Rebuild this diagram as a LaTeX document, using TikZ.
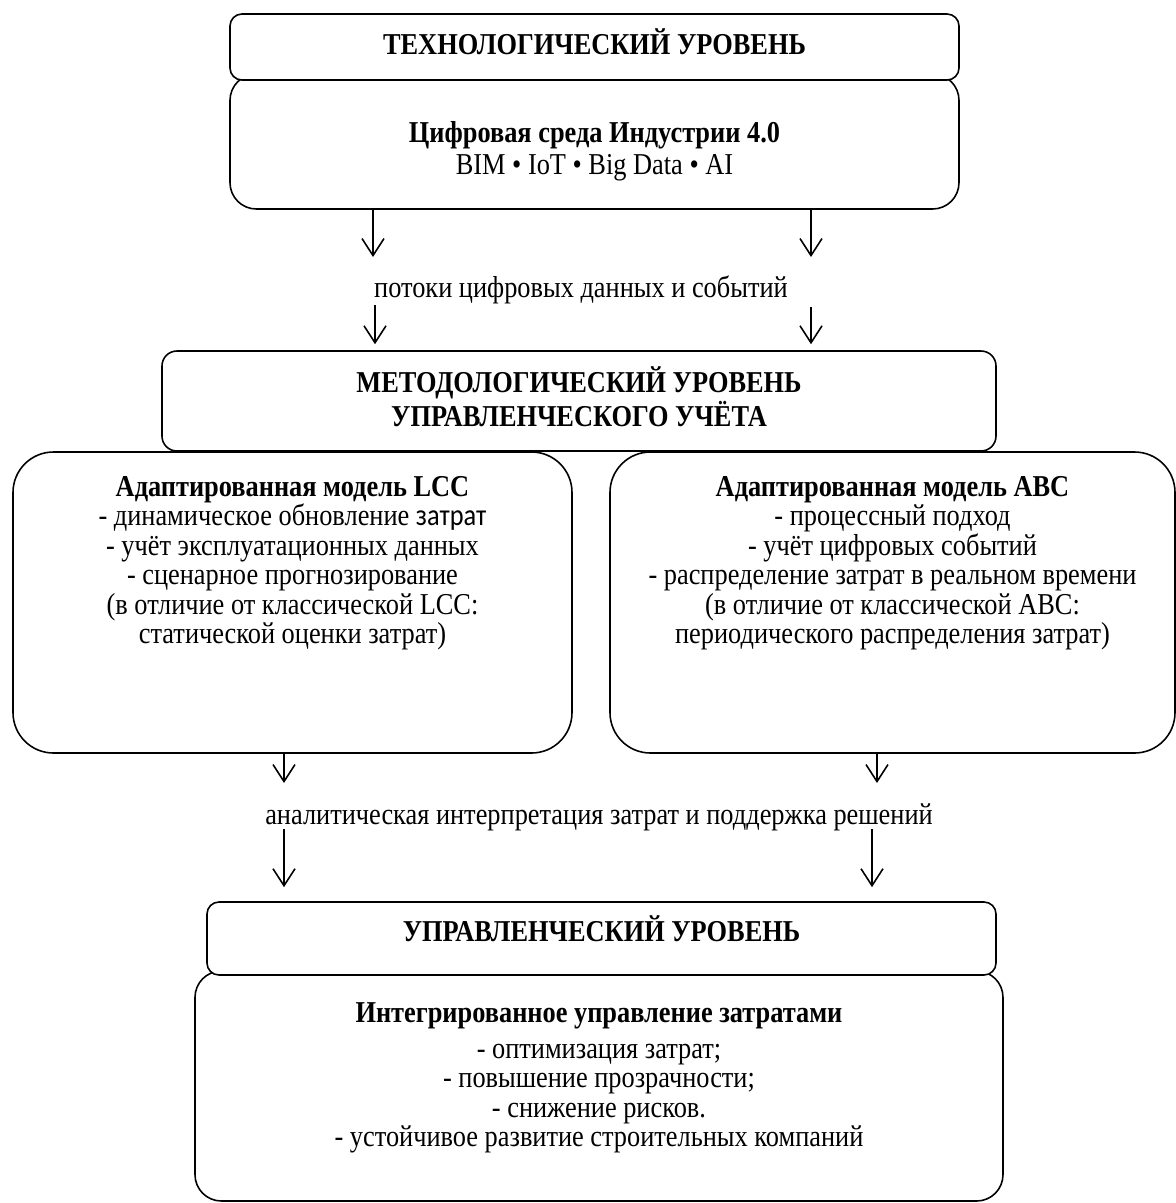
\documentclass[tikz,border=0pt]{standalone}
\usepackage{fontspec}
\setmainfont{Liberation Serif}
\newfontfamily\calibri{Carlito}
\usetikzlibrary{arrows.meta,calc}

\begin{document}
\begin{tikzpicture}[font=\fontsize{15}{14.6}\selectfont,line width=0.9pt]
        \tikzstyle{head box}=[draw,rounded corners=6.8pt,inner sep=0,fill=white]
        \tikzstyle{body box}=[draw,rounded corners=15pt,inner sep=0,fill=white]
        \tikzstyle{model box}=[draw,rounded corners=23pt,inner sep=0]
        \tikzstyle{level text}=[align=center,inner sep=0,yscale=1.15,transform shape]
        \tikzstyle{flow}=[-{Straight Barb[length=3.4mm,width=4.4mm]}]

        \useasboundingbox (0,0) rectangle (23.52,-24.06);

        % technological level
        \node[body box,minimum width=14.58cm,minimum height=2.7cm] (techbody) at (11.89,-2.83) {};
        \node[head box,minimum width=14.58cm,minimum height=1.32cm] (techhead) at (11.89,-0.94) {};
        \node[level text] (techtitle) at ([yshift=0.1cm]techhead.center) {\textbf{ТЕХНОЛОГИЧЕСКИЙ УРОВЕНЬ}};
        \node[level text] (techtext) at ([yshift=-0.2cm]techbody.center) {\textbf{Цифровая среда Индустрии 4.0}\\[1pt]BIM • IoT • Big Data • AI};

        % methodological level
        \node[draw,rounded corners=8.5pt,minimum width=16.68cm,minimum height=2cm] (method) at (11.58,-8.02) {};
        \node[level text] (methodtitle) at ([yshift=0.08cm]method.center) {\textbf{МЕТОДОЛОГИЧЕСКИЙ УРОВЕНЬ}\\\textbf{УПРАВЛЕНЧЕСКОГО УЧЁТА}};
        \node[model box,minimum width=11.18cm,minimum height=6.02cm] (lcc) at (5.85,-12.05) {};
        \node[model box,minimum width=11.30cm,minimum height=6.02cm] (abc) at (17.85,-12.05) {};
        \node[level text] (lcctext) at ([yshift=0.79cm]lcc.center) {\textbf{Адаптированная модель LCC}\\
            - динамическое обновление {\calibri затрат}\\
            - учёт эксплуатационных данных\\
            - сценарное прогнозирование\\
            (в отличие от классической LCC:\\
            статической оценки затрат)};
        \node[level text] (abctext) at ([yshift=0.79cm]abc.center) {\textbf{Адаптированная модель ABC}\\
            - процессный подход\\
            - учёт цифровых событий\\
            - распределение затрат в реальном времени\\
            (в отличие от классической ABC:\\
            периодического распределения затрат)};

        % management level
        \node[body box,minimum width=16.16cm,minimum height=4.6cm] (mgmtbody) at (11.98,-21.72) {};
        \node[head box,minimum width=15.78cm,minimum height=1.46cm] (mgmthead) at (12.03,-18.77) {};
        \node[level text] (mgmttitle) at ([yshift=0.2cm]mgmthead.center) {\textbf{УПРАВЛЕНЧЕСКИЙ УРОВЕНЬ}};
        \node[level text] (mgmttext) at ([yshift=0.16cm]mgmtbody.center) {\textbf{Интегрированное управление затратами}\\[3pt]
            - оптимизация затрат;\\
            - повышение прозрачности;\\
            - снижение рисков.\\
            - устойчивое развитие строительных компаний};

        % flows
        \coordinate (a1) at (7.46,-5.14);
        \coordinate (a2) at (16.22,-5.14);
        \coordinate (b1) at (7.50,-6.10);
        \coordinate (b2) at (16.22,-6.14);
        \coordinate (c1) at (5.68,-15.66);
        \coordinate (c2) at (17.54,-15.66);
        \coordinate (d1) at (5.68,-16.58);
        \coordinate (d2) at (17.44,-16.58);
        \node[level text] (flowdata) at ($(a2)!0.5!(a1)+(-0.22,-0.66)$) {потоки цифровых данных и событий};
        \node[level text] (flowcost) at (11.98,-16.34) {аналитическая интерпретация затрат и поддержка решений};

        \draw[flow] (a1 |- techbody.south) -- (a1);
        \draw[flow] (a2 |- techbody.south) -- (a2);
        \draw[flow] (b1) -- ([yshift=3.4pt]b1 |- method.north);
        \draw[flow] (b2) -- ([yshift=3.4pt]b2 |- method.north);
        \draw[flow] (c1 |- lcc.south) -- (c1);
        \draw[flow] (c2 |- abc.south) -- (c2);
        \draw[flow] (d1) -- ([yshift=8pt]d1 |- mgmthead.north);
        \draw[flow] (d2) -- ([yshift=8pt]d2 |- mgmthead.north);
\end{tikzpicture}
\end{document}
